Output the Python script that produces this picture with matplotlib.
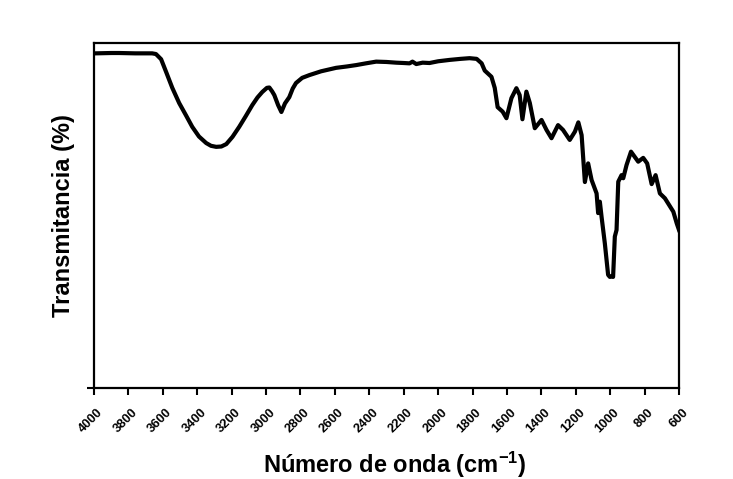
import matplotlib
matplotlib.use("Agg")
import matplotlib.pyplot as plt
import matplotlib.transforms as mtransforms
import numpy as np

plt.rcParams['font.family'] = ['Liberation Sans', 'DejaVu Sans']
plt.rcParams['mathtext.fontset'] = 'custom'
plt.rcParams['mathtext.rm'] = 'Liberation Sans:bold'
plt.rcParams['mathtext.default'] = 'rm'

# numero de onda (cm-1) y transmitancia (u.a.)
onda = np.array([3990, 3900, 3854, 3760, 3662, 3640, 3610, 3580, 3545, 3505,
                 3465, 3429, 3390, 3348, 3320, 3290, 3260, 3231, 3195, 3156,
                 3118, 3080, 3050, 3022, 2995, 2981, 2965, 2952, 2930, 2911,
                 2890, 2865, 2845, 2826, 2790, 2748, 2680, 2593, 2530, 2476,
                 2420, 2360, 2300, 2244, 2200, 2166, 2149, 2127, 2090, 2050,
                 2000, 1933, 1870, 1817, 1776, 1747, 1729, 1690, 1671, 1654,
                 1625, 1603, 1574, 1545, 1526, 1510, 1487, 1467, 1438, 1399,
                 1370, 1341, 1303, 1274, 1235, 1205, 1185, 1166, 1147, 1128,
                 1108, 1079, 1070, 1060, 1050, 1031, 1012, 1002, 992, 983,
                 973, 963, 953, 934, 924, 905, 879, 837, 808, 785,
                 759, 736, 711, 682, 633, 613, 600])
trans = np.array([97.0, 97.1, 97.1, 97.0, 97.0, 96.8, 95.3, 91.5, 87.0, 82.6,
                  79.0, 75.7, 72.9, 71.0, 70.2, 69.9, 70.0, 70.7, 72.8, 75.7,
                  78.8, 82.0, 84.2, 85.8, 87.0, 87.1, 86.0, 84.9, 82.0, 80.0,
                  82.5, 84.3, 86.8, 88.4, 89.9, 90.7, 91.8, 92.8, 93.2, 93.6,
                  94.1, 94.6, 94.5, 94.3, 94.2, 94.1, 94.6, 93.9, 94.3, 94.2,
                  94.7, 95.1, 95.4, 95.6, 95.4, 94.1, 92.0, 90.2, 87.0, 81.4,
                  80.1, 78.2, 84.0, 86.9, 84.9, 77.9, 85.9, 82.6, 75.3, 77.7,
                  74.8, 72.4, 76.2, 74.8, 71.9, 74.3, 77.0, 73.3, 59.7, 65.1,
                  60.3, 56.4, 50.7, 54.0, 49.6, 41.9, 32.8, 32.2, 32.3, 32.2,
                  43.9, 45.8, 59.8, 61.7, 60.8, 64.6, 68.5, 65.6, 66.7, 65.1,
                  59.1, 61.7, 56.4, 55.0, 51.1, 47.7, 45.8])
ticks = np.arange(4000, 599, -200)

fig = plt.figure(figsize=(7.33, 4.79), dpi=100)
ax = fig.add_axes([94/733, 1-388/479, 585/733, 345/479])
ax.plot(onda, trans, color='black', lw=3, solid_joinstyle='round')
ax.set_xlim(4000, 600)
ax.set_ylim(0, 100)
ax.set_xticks(ticks)
ax.set_xticklabels([str(t) for t in ticks], rotation=45, ha='right',
                   rotation_mode='anchor', fontsize=9.3, fontweight='bold')
ax.set_yticks([0])
ax.set_yticklabels([''])
ax.tick_params(axis='both', direction='out', length=5, width=1.5)
ax.tick_params(axis='x', pad=8.5)
shift = mtransforms.ScaledTranslation(0.03, 0, fig.dpi_scale_trans)
for lab in ax.get_xticklabels():
    lab.set_transform(lab.get_transform() + shift)
for s in ax.spines.values():
    s.set_linewidth(1.6)
ax.set_xlabel(r'Número de onda (cm$^{-1}$)', fontsize=17, fontweight='bold', va='top')
ax.xaxis.set_label_coords(0.514, -0.18)
ax.set_ylabel('Transmitancia (%)', fontsize=17, fontweight='bold', labelpad=5)
fig.savefig('out.png', dpi=100)
